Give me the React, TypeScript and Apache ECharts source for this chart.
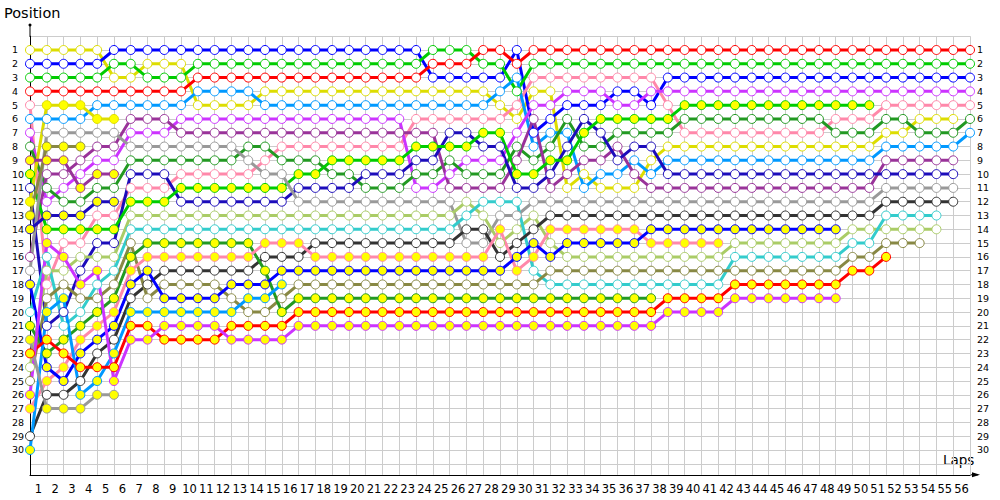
import React, { useEffect, useRef } from "react";
import * as echarts from "echarts";

// ---- tick labels ----
const lapLabels = ["1","2","3","4","5","6","7","8","9","10","11","12","13","14","15","16","17","18","19","20","21","22","23","24","25","26","27","28","29","30","31","32","33","34","35","36","37","38","39","40","41","42","43","44","45","46","47","48","49","50","51","52","53","54","55","56"];
const positionLabels = ["1","2","3","4","5","6","7","8","9","10","11","12","13","14","15","16","17","18","19","20","21","22","23","24","25","26","27","28","29","30"];

// ---- positions per lap (index 0 = start, 1..56 = laps) ----
const posYA = [1,1,1,1,1,3,3,2,2,2, 5,5,5,5,4,4,4,4,4,4, 4,4,4,4,4,4,4,4,5,6, 4,4,11,10,11,11,11,9,8,8, 8,8,8,8,8,8,8,8,8,8, 8,7,7,6,6,6,null];
const posBL = [2,2,2,2,2,1,1,1,1,1, 1,1,1,1,1,1,1,1,1,1, 1,1,1,1,3,3,3,3,3,1, 7,6,5,5,5,4,4,5,3,3, 3,3,3,3,3,3,3,3,3,3, 3,3,3,3,3,3,3];
const posGR = [3,3,3,3,3,2,2,3,3,3, 2,2,2,2,2,2,2,2,2,2, 2,2,2,2,1,1,1,2,2,4, 2,2,2,2,2,2,2,2,2,2, 2,2,2,2,2,2,2,2,2,2, 2,2,2,2,2,2,2];
const posRD = [4,4,4,4,4,4,4,4,4,4, 3,3,3,3,3,3,3,3,3,3, 3,3,3,3,2,2,2,1,1,2, 1,1,1,1,1,1,1,1,1,1, 1,1,1,1,1,1,1,1,1,1, 1,1,1,1,1,1,1];
const posPK = [5,18,15,15,13,13,11,11,11,10, 10,10,10,10,9,8,8,8,8,8, 8,8,8,6,6,6,6,6,6,5, 3,3,3,3,3,3,3,3,5,7, 7,7,7,7,7,7,7,7,6,6, 6,5,5,5,5,5,5];
const posLB = [6,6,6,6,5,5,5,5,5,5, 4,4,4,4,5,5,5,5,5,5, 5,5,5,5,5,5,5,5,4,3, 8,7,7,11,10,10,9,10,9,9, 9,9,9,9,9,9,9,9,9,9, 9,8,8,8,8,8,7];
const posVI = [7,12,11,10,9,9,7,7,7,6, 6,6,6,6,6,6,6,6,6,6, 6,6,6,11,11,10,9,9,9,7, 5,5,4,4,4,5,5,4,4,4, 4,4,4,4,4,4,4,4,4,4, 4,4,4,4,4,4,4];
const posDG = [8,11,12,12,11,11,9,9,9,9, 9,9,9,8,8,9,9,9,10,10, 11,11,11,10,10,9,10,10,10,8, 9,8,6,8,8,7,7,7,7,6, 6,6,6,6,6,6,6,6,7,7, 7,6,6,7,7,7,6];
const posPU = [16,10,10,9,8,8,6,6,6,7, 7,7,7,7,7,7,7,7,7,7, 7,7,7,7,7,11,11,11,11,9, 6,11,10,9,9,8,10,11,11,11, 11,11,11,11,11,11,11,11,11,11, 11,9,9,9,9,9,null];
const posNV = [11,21,20,17,15,15,10,10,10,12, 12,12,12,12,12,12,11,11,11,11, 10,10,10,9,9,7,7,8,8,11, 11,10,8,6,7,9,8,8,10,10, 10,10,10,10,10,10,10,10,10,10, 10,10,10,10,10,10,null];
const posBGy = [10,14,14,14,14,14,12,12,12,11, 11,11,11,11,11,11,10,10,9,9, 9,9,9,8,8,8,8,7,7,10, 10,9,9,7,6,6,6,6,6,5, 5,5,5,5,5,5,5,5,5,5, 5,null,null,null,null,null,null];
const posGY = [17,7,7,7,7,7,8,8,8,8, 8,8,8,9,10,10,12,12,12,12, 12,12,12,12,12,12,15,15,13,13, 12,12,12,12,12,12,12,12,12,12, 12,12,12,12,12,12,12,12,12,12, 12,11,11,11,11,11,null];
const posLG = [24,17,17,16,16,16,13,13,13,13, 13,13,13,13,13,13,13,13,13,13, 13,13,13,13,13,13,12,13,15,14, 13,15,16,16,16,16,16,16,16,16, 16,16,15,15,15,15,15,15,15,14, 14,14,14,14,14,null,null];
const posCY = [20,16,21,20,18,17,14,14,14,14, 14,14,14,14,14,14,14,14,14,14, 14,14,14,14,14,14,13,12,12,12, 17,18,18,18,18,18,18,18,18,18, 18,18,16,16,16,16,16,16,16,15, 15,13,13,13,13,null,null];
const posDK = [29,26,26,25,23,22,19,18,17,17, 17,17,17,17,16,16,16,15,15,15, 15,15,15,15,15,15,14,14,16,15, 14,13,13,13,13,13,13,13,13,13, 13,13,13,13,13,13,13,13,13,13, 13,12,12,12,12,12,null];
const posOL = [25,19,18,19,19,18,15,19,18,18, 18,18,19,20,20,19,18,18,18,18, 18,18,18,18,18,18,18,18,18,18, 18,17,17,17,17,17,17,17,17,17, 17,17,17,17,17,17,17,17,17,16, 16,15,15,15,null,null,null];
const posDGy = [21,23,22,21,20,19,16,15,15,15, 15,15,15,15,17,20,19,19,19,19, 19,19,19,19,19,19,19,19,19,19, 19,19,19,19,19,19,19,19];
const posPKy = [27,25,24,22,21,20,17,16,16,16, 16,16,16,16,15,15,15,16,16,16, 16,16,16,16,16,16,16,16,14,17, 16,14,14,14,14,14,14,15,15,15, 15,15];
const posBLy = [18,24,25,23,22,21,18,17,19,19, 19,19,18,18,18,17,17,17,17,17, 17,17,17,17,17,17,17,17,17,16, 15,16,15,15,15,15,15,14,14,14, 14,14,14,14,14,14,14,14,14];
const posLBy = [30,20,19,26,25,23,20,20,20,20, 20,20,20,19,19,18];
const posRDy = [23,22,23,24,24,24,21,21,22,22, 22,22,21,21,21,21,20,20,20,20, 20,20,20,20,20,20,20,20,20,20, 20,20,20,20,20,20,20,20,19,19, 19,19,18,18,18,18,18,18,18,17, 17,16];
const posVIy = [26,15,16,18,17,25,22,22,21,21, 21,21,22,22,22,22,21,21,21,21, 21,21,21,21,21,21,21,21,21,21, 21,21,21,21,21,21,21,21,20,20, 20,20,19,19,19,19,19,19,19];
const posYBy = [12,5,5,5,6,6];
const posPUy = [9,9,9,11,10,10];
const posNVy = [14,13,13,13,12,12];
const posGYy = [22,27,27,27,26,26];
const posOLy = [13,8,8,8];

// ---- drivers: line colour key and tyre marker (W = white, Y = yellow) ----
const cars = [
  { id: "YA", pos: posYA, colour: "yellow", tyre: "W" },
  { id: "BL", pos: posBL, colour: "blue", tyre: "W" },
  { id: "GR", pos: posGR, colour: "green", tyre: "W" },
  { id: "RD", pos: posRD, colour: "red", tyre: "W" },
  { id: "PK", pos: posPK, colour: "pink", tyre: "W" },
  { id: "LB", pos: posLB, colour: "lightblue", tyre: "W" },
  { id: "VI", pos: posVI, colour: "violet", tyre: "W" },
  { id: "DG", pos: posDG, colour: "darkgreen", tyre: "W" },
  { id: "PU", pos: posPU, colour: "purple", tyre: "W" },
  { id: "NV", pos: posNV, colour: "navy", tyre: "W" },
  { id: "BGy", pos: posBGy, colour: "green", tyre: "Y" },
  { id: "GY", pos: posGY, colour: "gray", tyre: "W" },
  { id: "LG", pos: posLG, colour: "lightgreen", tyre: "W" },
  { id: "CY", pos: posCY, colour: "cyan", tyre: "W" },
  { id: "DK", pos: posDK, colour: "darkgray", tyre: "W" },
  { id: "OL", pos: posOL, colour: "olive", tyre: "W" },
  { id: "DGy", pos: posDGy, colour: "darkgreen", tyre: "Y" },
  { id: "PKy", pos: posPKy, colour: "pink", tyre: "Y" },
  { id: "BLy", pos: posBLy, colour: "blue", tyre: "Y" },
  { id: "LBy", pos: posLBy, colour: "lightblue", tyre: "Y" },
  { id: "RDy", pos: posRDy, colour: "red", tyre: "Y" },
  { id: "VIy", pos: posVIy, colour: "violet", tyre: "Y" },
  { id: "YBy", pos: posYBy, colour: "yellow", tyre: "Y" },
  { id: "PUy", pos: posPUy, colour: "purple", tyre: "Y" },
  { id: "NVy", pos: posNVy, colour: "navy", tyre: "Y" },
  { id: "GYy", pos: posGYy, colour: "gray", tyre: "Y" },
  { id: "OLy", pos: posOLy, colour: "olive", tyre: "Y" },
];

const palette: Record<string, string> = {
  yellow: "#dddd00", blue: "#0000ff", green: "#00cc00", red: "#ff0000",
  pink: "#ff88aa", lightblue: "#0099ff", violet: "#cc33ff", darkgreen: "#229922",
  purple: "#993399", navy: "#1c0cbb", gray: "#999999", lightgreen: "#aacc66",
  cyan: "#33cccc", darkgray: "#333333", olive: "#888844",
};
const tyreFill: Record<string, string> = { W: "#ffffff", Y: "#ffff00" };

const FONT = "DejaVu Sans";
const AXIS_Y = 474.8;

export default function App() {
  const ref = useRef<HTMLDivElement>(null);
  useEffect(() => {
    if (!ref.current) return;
    const chart = echarts.init(ref.current, undefined, { renderer: "svg" });
    const series = cars.map((c) => ({
      type: "line",
      name: c.id,
      xAxisIndex: 0,
      yAxisIndex: 0,
      data: c.pos
        .map((p, lap) => (p == null ? null : [lap, p]))
        .filter((d) => d !== null),
      symbol: "circle",
      symbolSize: 9,
      showSymbol: true,
      lineStyle: { color: palette[c.colour], width: 3 },
      itemStyle: {
        color: tyreFill[c.tyre],
        borderColor: palette[c.colour],
        borderWidth: 1,
      },
      emphasis: { disabled: true },
      silent: true,
    }));
    chart.setOption({
      animation: false,
      grid: { left: 30, right: 30, top: 36.2, bottom: 500 - AXIS_Y },
      xAxis: [
        {
          type: "value",
          min: 0,
          max: 56,
          interval: 1,
          axisLine: { show: true, onZero: false, lineStyle: { color: "#000", width: 1 } },
          axisTick: { show: false },
          axisLabel: { show: false },
          splitLine: { show: true, lineStyle: { color: "#cccccc", width: 1 } },
        },
        {
          type: "category",
          data: lapLabels,
          boundaryGap: true,
          position: "bottom",
          axisLine: { show: false },
          axisTick: { show: false },
          splitLine: { show: false },
          axisLabel: { interval: 0, fontFamily: FONT, fontSize: 11.5, color: "#000", margin: 8 },
        },
      ],
      yAxis: [
        {
          type: "value",
          inverse: true,
          min: 0,
          max: 31.8,
          interval: 1,
          axisLine: { show: true, onZero: false, lineStyle: { color: "#000", width: 1 } },
          axisTick: { show: false },
          axisLabel: {
            fontFamily: FONT, fontSize: 9.5, color: "#000", align: "left", margin: 18,
            showMaxLabel: false,
            formatter: (v: number) => positionLabels[v - 1] ?? "",
          },
          splitLine: { show: true, lineStyle: { color: "#cccccc", width: 1 } },
        },
        {
          type: "value",
          inverse: true,
          min: 0,
          max: 31.8,
          interval: 1,
          position: "right",
          axisLine: { show: false },
          axisTick: { show: false },
          axisLabel: {
            fontFamily: FONT, fontSize: 9.5, color: "#000", align: "left", margin: 7,
            showMaxLabel: false,
            formatter: (v: number) => positionLabels[v - 1] ?? "",
          },
          splitLine: { show: false },
        },
      ],
      graphic: [
        { type: "text", left: 4, top: 5, style: { text: "Position", fontFamily: FONT, fontSize: 14.5, fill: "#000" } },
        { type: "text", left: 943, top: 453, style: { text: "Laps", fontFamily: FONT, fontSize: 13.5, fill: "#000" } },
        { type: "line", shape: { x1: 30, y1: 25, x2: 30, y2: 37 }, style: { stroke: "#000", lineWidth: 1 } },
        { type: "circle", shape: { cx: 30, cy: 25, r: 1.5 }, style: { fill: "#000" } },
        { type: "line", shape: { x1: 970, y1: AXIS_Y, x2: 978, y2: AXIS_Y }, style: { stroke: "#000", lineWidth: 1 } },
        { type: "polygon", shape: { points: [[972, AXIS_Y - 2.5], [980, AXIS_Y], [972, AXIS_Y + 2.5]] }, style: { fill: "#000" } },
      ],
      series,
    });
    return () => chart.dispose();
  }, []);
  return (
    <div
      ref={ref}
      style={{ position: "fixed", left: 0, top: 0, width: 1000, height: 500, background: "#fff" }}
    />
  );
}
